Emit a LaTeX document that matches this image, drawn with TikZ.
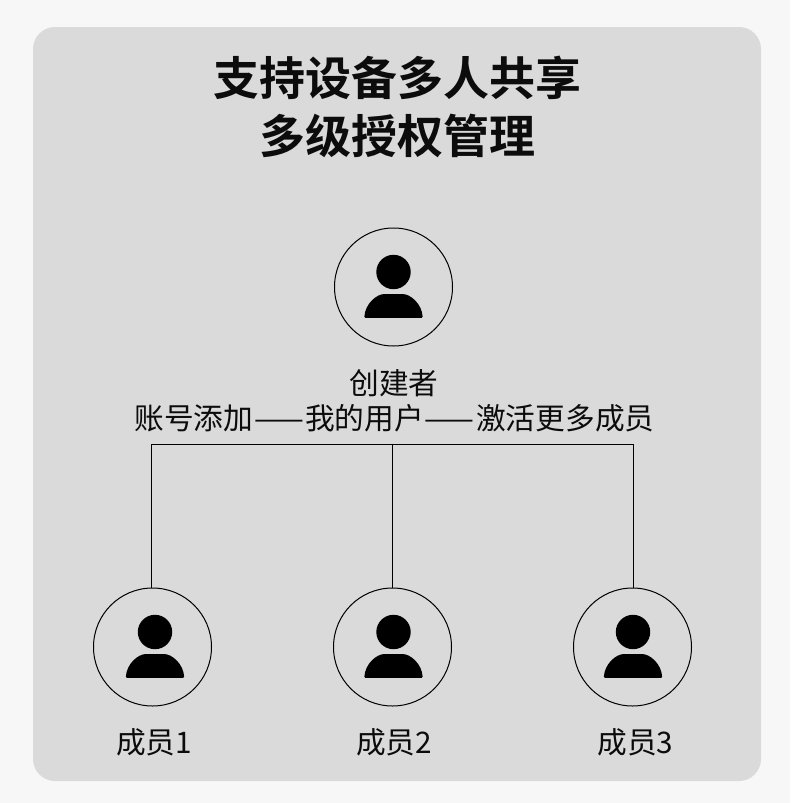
\documentclass[tikz,border=0pt]{standalone}
\usepackage{fontspec}
\setmainfont{Noto Sans CJK SC}
\newfontfamily\boldcjk{Noto Sans CJK SC Bold}
\definecolor{pagebg}{HTML}{F7F7F7}
\definecolor{panelbg}{HTML}{DADADA}
\definecolor{inkc}{HTML}{0C0C0C}
\tikzset{
  x=1pt,y=-1pt,
  titletext/.style={font=\boldcjk\fontsize{46}{46}\selectfont,text=inkc,inner sep=0pt},
  bodytext/.style={font=\fontsize{29.7}{29.7}\selectfont,text=inkc,inner sep=0pt},
  avatar/.style={circle,draw=black,line width=1pt,minimum size=118pt,inner sep=0pt},
  wire/.style={draw=black,line width=1pt},
  person/.pic={
    \fill[black] (0,-15) circle[radius=17.2];
    \fill[black,rounded corners=1pt] (-29.2,30.8) .. controls (-28.5,17) and (-17,7) .. (-8,7) -- (8,7) .. controls (17,7) and (28.5,17) .. (29.2,30.8) -- cycle;
  }
}
\begin{document}
\begin{tikzpicture}
\useasboundingbox (0,0) rectangle (790,803);
\fill[pagebg] (0,0) rectangle (790,803);
\fill[panelbg,rounded corners=22pt] (33,27) rectangle (761,781);
\node[titletext] (t1) at (397.5,78) {支持设备多人共享};
\node[titletext] (t2) at (397.5,136) {多级授权管理};
\node[avatar] (top) at (393.5,287) {};
\pic at (393.5,287) {person};
\node[bodytext] (creator) at (394,383) {创建者};
\node[bodytext] (actions) at (394.5,418) {账号添加\kern1.5pt——\kern0.5pt我的用户\kern1pt——\kern1.5pt激活更多成员};
\node[avatar] (m1) at (152.5,647) {};
\node[avatar] (m2) at (392.5,647) {};
\node[avatar] (m3) at (632.5,647) {};
\pic at (155,647) {person};
\pic at (393.5,647) {person};
\pic at (633,647) {person};
\coordinate (d1) at ([xshift=-0.9pt]m1.north);
\coordinate (d3) at ([xshift=0.9pt]m3.north);
\coordinate (b1) at (d1 |- 0,444.5);
\coordinate (b2) at (m2.north |- 0,444.5);
\coordinate (b3) at (d3 |- 0,444.5);
\draw[wire] (d1) -- (b1) -- (b3) -- (d3);
\draw[wire] (b2) -- (m2.north);
\node[bodytext] (l1) at (154,742) {成员1};
\node[bodytext] (l2) at (394,742) {成员2};
\node[bodytext] (l3) at (635.5,742) {成员3};
\end{tikzpicture}
\end{document}
